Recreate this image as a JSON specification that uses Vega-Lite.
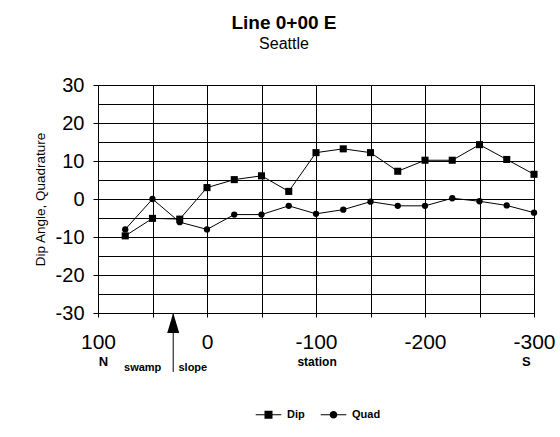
{
  "$schema": "https://vega.github.io/schema/vega-lite/v6.json",
  "width": 436,
  "height": 228,
  "autosize": {"type": "none"},
  "padding": {"left": 98, "top": 85, "right": 26, "bottom": 124},
  "background": "white",
  "title": {
    "text": "Line 0+00 E",
    "subtitle": "Seattle",
    "font": "Liberation Sans",
    "fontSize": 19,
    "fontWeight": "bold",
    "subtitleFont": "Liberation Sans",
    "subtitleFontSize": 16,
    "color": "black",
    "subtitleColor": "black",
    "anchor": "middle",
    "dx": -32,
    "offset": 23,
    "subtitlePadding": 3
  },
  "config": {
    "font": "Liberation Sans",
    "view": {"stroke": "black", "strokeWidth": 1}
  },
  "data": {
    "values": [
      {"station": 75, "value": -9.7, "series": "Dip"},
      {"station": 50, "value": -5.1, "series": "Dip"},
      {"station": 25, "value": -5.3, "series": "Dip"},
      {"station": 0, "value": 3.0, "series": "Dip"},
      {"station": -25, "value": 5.1, "series": "Dip"},
      {"station": -50, "value": 6.1, "series": "Dip"},
      {"station": -75, "value": 2.0, "series": "Dip"},
      {"station": -100, "value": 12.2, "series": "Dip"},
      {"station": -125, "value": 13.2, "series": "Dip"},
      {"station": -150, "value": 12.2, "series": "Dip"},
      {"station": -175, "value": 7.3, "series": "Dip"},
      {"station": -200, "value": 10.2, "series": "Dip"},
      {"station": -225, "value": 10.2, "series": "Dip"},
      {"station": -250, "value": 14.3, "series": "Dip"},
      {"station": -275, "value": 10.4, "series": "Dip"},
      {"station": -300, "value": 6.5, "series": "Dip"},
      {"station": 75, "value": -8.0, "series": "Quad"},
      {"station": 50, "value": 0.0, "series": "Quad"},
      {"station": 25, "value": -6.1, "series": "Quad"},
      {"station": 0, "value": -8.0, "series": "Quad"},
      {"station": -25, "value": -4.1, "series": "Quad"},
      {"station": -50, "value": -4.1, "series": "Quad"},
      {"station": -75, "value": -1.8, "series": "Quad"},
      {"station": -100, "value": -3.9, "series": "Quad"},
      {"station": -125, "value": -2.8, "series": "Quad"},
      {"station": -150, "value": -0.7, "series": "Quad"},
      {"station": -175, "value": -1.8, "series": "Quad"},
      {"station": -200, "value": -1.8, "series": "Quad"},
      {"station": -225, "value": 0.2, "series": "Quad"},
      {"station": -250, "value": -0.6, "series": "Quad"},
      {"station": -275, "value": -1.7, "series": "Quad"},
      {"station": -300, "value": -3.6, "series": "Quad"}
    ]
  },
  "encoding": {
    "x": {
      "field": "station",
      "type": "quantitative",
      "scale": {"domain": [-300, 100], "reverse": true, "nice": false, "zero": false},
      "axis": {
        "values": [100, 50, 0, -50, -100, -150, -200, -250, -300],
        "labelExpr": "datum.value % 100 === 0 ? '' + datum.value : ''",
        "title": null,
        "grid": true,
        "gridColor": "black",
        "gridOpacity": 1,
        "gridWidth": 1,
        "domainColor": "black",
        "tickColor": "black",
        "tickSize": 4,
        "labelFontSize": 21,
        "labelColor": "black",
        "labelPadding": 14,
        "labelOverlap": false,
        "labelFlush": false
      }
    },
    "y": {
      "field": "value",
      "type": "quantitative",
      "scale": {"domain": [-30, 30], "nice": false, "zero": false},
      "axis": {
        "values": [-30, -25, -20, -15, -10, -5, 0, 5, 10, 15, 20, 25, 30],
        "labelExpr": "datum.value % 10 === 0 ? '' + datum.value : ''",
        "title": "Dip Angle, Quadrature",
        "titleFontSize": 13.5,
        "titleFontWeight": "normal",
        "titleColor": "black",
        "titlePadding": 8,
        "grid": true,
        "gridColor": "black",
        "gridOpacity": 1,
        "gridWidth": 1,
        "domainColor": "black",
        "tickColor": "black",
        "tickSize": 5,
        "tickOpacity": {"condition": {"test": "datum.value % 10 !== 0", "value": 0}, "value": 1},
        "labelFontSize": 20,
        "labelColor": "black",
        "labelPadding": 9,
        "labelOverlap": false,
        "labelFlush": false
      }
    }
  },
  "layer": [
    {
      "mark": {"type": "line", "color": "black", "strokeWidth": 1},
      "encoding": {"detail": {"field": "series"}}
    },
    {
      "transform": [{"filter": "datum.series === 'Dip'"}],
      "mark": {"type": "point", "filled": true, "color": "black", "opacity": 1, "size": 50, "shape": "square"},
      "encoding": {}
    },
    {
      "transform": [{"filter": "datum.series === 'Quad'"}],
      "mark": {"type": "point", "filled": true, "color": "black", "opacity": 1, "size": 40, "shape": "circle"},
      "encoding": {}
    },
    {
      "mark": {"type": "point", "filled": true, "color": "black", "opacity": 0},
      "encoding": {
        "shape": {
          "field": "series",
          "type": "nominal",
          "scale": {
            "domain": ["Dip", "Quad"],
            "range": [
              "M-3.2,-0.12H3.2V0.12H-3.2ZM-1,-1H1V1H-1Z",
              "M-3.2,-0.12H3.2V0.12H-3.2ZM0.95,0A0.95,0.95,0,1,1,-0.95,0A0.95,0.95,0,1,1,0.95,0Z"
            ]
          },
          "legend": {
            "orient": "none",
            "legendX": 155,
            "legendY": 324,
            "direction": "horizontal",
            "title": null,
            "symbolSize": 64,
            "symbolOpacity": 1,
            "symbolFillColor": "black",
            "symbolStrokeWidth": 0,
            "labelFontSize": 11,
            "labelFontWeight": "bold",
            "labelColor": "black",
            "labelOffset": 13,
            "symbolOffset": 10,
            "columnPadding": 13,
            "padding": 0
          }
        }
      }
    },
    {
      "data": {"values": [{"station": 31, "value": -30, "value2": -45.5}]},
      "mark": {"type": "rule", "color": "black", "strokeWidth": 1},
      "encoding": {"y2": {"field": "value2"}}
    },
    {
      "data": {"values": [{"station": 31, "value": -32.6}]},
      "mark": {"type": "point", "filled": true, "color": "black", "opacity": 1, "size": 400, "shape": "M0,-1L0.6,1L-0.6,1Z"},
      "encoding": {}
    },
    {
      "data": {"values": [{"station": 95, "value": -42.9, "label": "N"}, {"station": -293, "value": -42.9, "label": "S"}]},
      "mark": {"type": "text", "color": "black", "fontSize": 13, "fontWeight": "bold", "align": "center", "baseline": "middle"},
      "encoding": {"text": {"field": "label"}}
    },
    {
      "data": {"values": [{"station": -101, "value": -42.9, "label": "station"}]},
      "mark": {"type": "text", "color": "black", "fontSize": 12, "fontWeight": "bold", "align": "center", "baseline": "middle"},
      "encoding": {"text": {"field": "label"}}
    },
    {
      "data": {"values": [{"station": 59, "value": -44.5, "label": "swamp"}, {"station": 13, "value": -44.5, "label": "slope"}]},
      "mark": {"type": "text", "color": "black", "fontSize": 11, "fontWeight": "bold", "align": "center", "baseline": "middle"},
      "encoding": {"text": {"field": "label"}}
    }
  ]
}
